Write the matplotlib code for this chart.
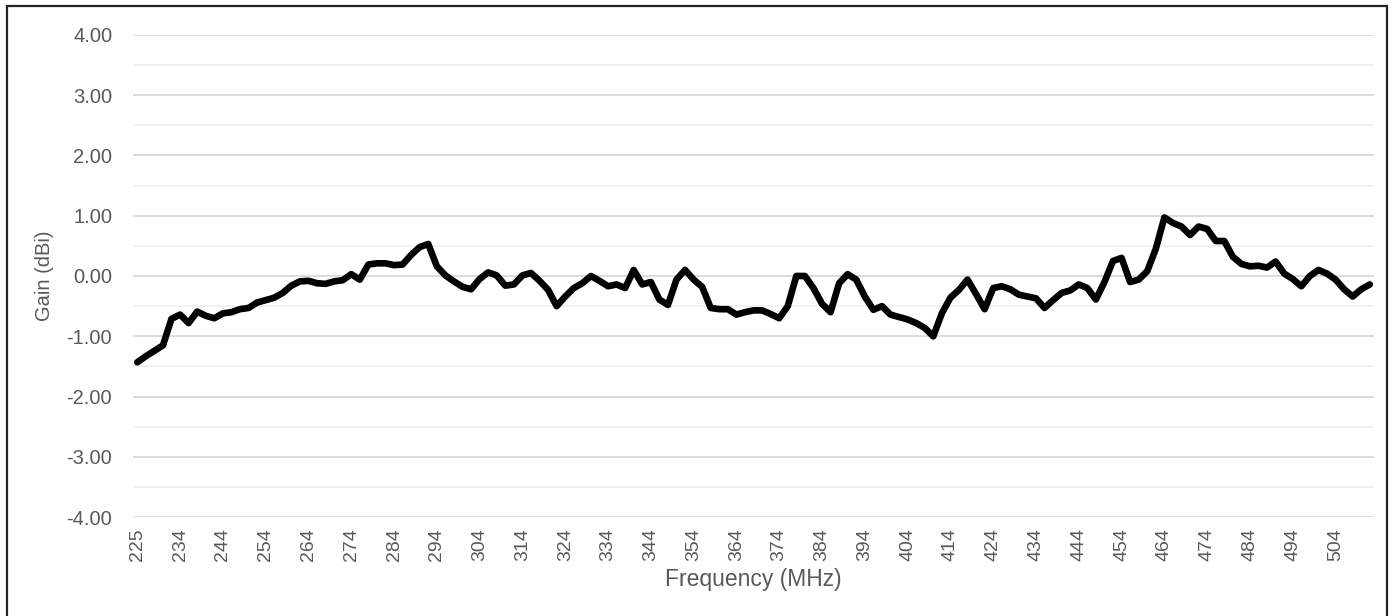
import matplotlib
matplotlib.use('Agg')
import matplotlib.pyplot as plt
from matplotlib.patches import Rectangle
from matplotlib.ticker import MultipleLocator

plt.rcParams['font.family'] = ['Liberation Sans', 'DejaVu Sans']

# gain per measurement step (145 steps, 225 MHz .. ~512 MHz)
gain = [
    -1.43, -1.33, -1.24, -1.15, -0.71, -0.64, -0.78, -0.59, -0.66, -0.70, -0.62, -0.60,
    -0.55, -0.53, -0.44, -0.40, -0.36, -0.28, -0.16, -0.09, -0.08, -0.12, -0.13, -0.09,
    -0.07, 0.03, -0.06, 0.19, 0.21, 0.21, 0.18, 0.19, 0.35, 0.48, 0.53, 0.16,
    0.01, -0.09, -0.18, -0.22, -0.05, 0.06, 0.01, -0.16, -0.14, 0.01, 0.05, -0.08,
    -0.23, -0.50, -0.34, -0.20, -0.12, 0.00, -0.08, -0.17, -0.14, -0.20, 0.10, -0.14,
    -0.10, -0.39, -0.48, -0.06, 0.10, -0.06, -0.18, -0.53, -0.55, -0.55, -0.64, -0.60,
    -0.57, -0.57, -0.63, -0.70, -0.50, 0.00, 0.00, -0.20, -0.46, -0.60, -0.12, 0.03,
    -0.06, -0.34, -0.56, -0.50, -0.64, -0.68, -0.72, -0.78, -0.86, -1.00, -0.62, -0.36,
    -0.23, -0.06, -0.30, -0.55, -0.20, -0.17, -0.22, -0.31, -0.34, -0.37, -0.53, -0.40,
    -0.28, -0.24, -0.14, -0.20, -0.39, -0.10, 0.25, 0.30, -0.10, -0.06, 0.08, 0.45,
    0.97, 0.88, 0.82, 0.68, 0.82, 0.78, 0.58, 0.58, 0.32, 0.20, 0.16, 0.17,
    0.14, 0.24, 0.04, -0.05, -0.17, 0.00, 0.10, 0.04, -0.06, -0.22, -0.34, -0.22, -0.14,
]

# category labels shown every 5th step
freq_labels = ['225', '234', '244', '254', '264', '274', '284', '294', '304', '314',
               '324', '334', '344', '354', '364', '374', '384', '394', '404', '414',
               '424', '434', '444', '454', '464', '474', '484', '494', '504']

text_col = '#595959'

fig = plt.figure(figsize=(13.94, 6.16), dpi=100)
ax = fig.add_axes([0.0954, 0.1602, 0.8903, 0.7835])

ax.plot(range(len(gain)), gain, color='black', lw=4.8, solid_joinstyle='round',
        solid_capstyle='round', zorder=3)

ax.set_xlim(-0.5, len(gain) - 0.5)
ax.set_ylim(-4, 4)
ax.yaxis.set_major_locator(MultipleLocator(1))
ax.yaxis.set_minor_locator(MultipleLocator(0.5))
ax.set_yticks(ax.get_yticks())
ax.set_yticklabels(['%.2f' % v for v in ax.get_yticks()])
ax.set_ylim(-4, 4)
ax.set_xticks(range(0, 5 * len(freq_labels), 5))
ax.set_xticklabels(freq_labels, rotation=90)

ax.grid(axis='y', which='major', color='#d9d9d9', lw=1.3)
ax.grid(axis='y', which='minor', color='#f0f0f0', lw=1.3)
ax.set_axisbelow(True)
for s in ax.spines.values():
    s.set_visible(False)

ax.tick_params(axis='y', which='both', length=0, pad=15, labelsize=14.5, labelcolor=text_col)
ax.tick_params(axis='x', length=0, pad=8, labelsize=14, labelcolor=text_col)

ax.set_ylabel('Gain (dBi)', fontsize=14.5, color=text_col, labelpad=9)
ax.set_xlabel('Frequency (MHz)', fontsize=16.5, color=text_col, labelpad=5)

# outer frame
fig.add_artist(Rectangle((7 / 1394, -0.05), 1380 / 1394, 1.05 - 6 / 616,
                         transform=fig.transFigure, fill=False, ec='#222222',
                         lw=1.6, clip_on=False))

fig.savefig('out.png', dpi=100)
